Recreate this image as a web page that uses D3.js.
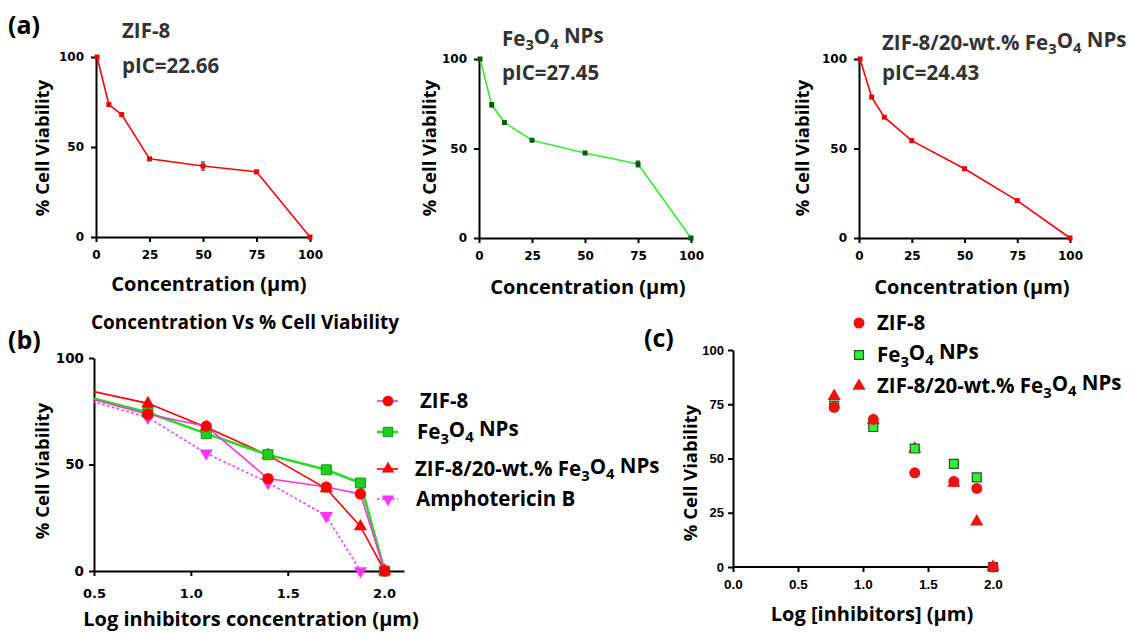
<!DOCTYPE html>
<html>
<head>
<meta charset="utf-8">
<script src="https://cdn.jsdelivr.net/npm/d3@7"></script>
<style>
  body { margin: 0; background: #fff; }
  svg { display: block; }
  .tick line { stroke: #000; stroke-width: 2; }
  .domain { stroke: #000; stroke-width: 2; }
</style>
</head>
<body>
<div id="container"></div>
<script>
/* DATA */
const conc = [0.5, 6, 12, 25, 50, 75, 100];
const zif8 = [100, 73.6, 68.0, 43.4, 39.4, 36.2, 0];
const zif8Err = [0, 0.8, 0.8, 0.8, 2.2, 0.8, 0];
const fe3o4 = [100, 74.4, 64.5, 54.6, 47.5, 41.3, 0];
const fe3o4Err = [0, 1.2, 0.8, 0.8, 0.8, 1.6, 0];
const zifFe = [100, 78.7, 67.5, 54.4, 38.7, 20.9, 0];
const zifFeErr = [0, 0.8, 0.8, 0.8, 0.8, 0.8, 0];
const amphoConc = [0.5, 6, 12, 25, 50, 75];
const amphoB = [100, 72.1, 55.3, 41.5, 25.9, 0];

const pIC = ["22.66", "27.45", "24.43"];
const linTicks = [0, 25, 50, 75, 100];
const linYTicks = [0, 50, 100];
const logXTicksB = [0.5, 1.0, 1.5];
const logXTicksC = [0, 0.5, 1.0, 1.5, 2.0];
const yTicksC = [0, 25, 50, 75, 100];

/* CONSTANTS */
const width = 1131, height = 633;
const RED = "#ff0000", GREEN = "#33ee33", MAGENTA = "#ff33dd", AMPHO = "#ff33ff";
const TITLE_FONT = "'Open Sans', sans-serif";
const TICK_FONT = "'DejaVu Sans', sans-serif";
const LBL = 20;   // axis title size
const LEG = 20.5; // legend / panel title size

const svg = d3.select("#container")
  .append("svg")
  .attr("width", width)
  .attr("height", height);

// writes text with subscript pieces ({s: "3"})
function formula(sel, pieces) {
  let shifted = false;
  pieces.forEach(p => {
    const sub = typeof p !== "string";
    const t = sub ? p.s : p;
    const ts = sel.append("tspan").text(t);
    if (sub && !shifted) { ts.attr("font-size", "0.72em").attr("dy", "0.3em"); shifted = true; }
    else if (!sub && shifted) { ts.attr("dy", "-0.3em"); shifted = false; }
    else if (sub) ts.attr("font-size", "0.72em");
  });
}
const FE3O4 = ["Fe", {s: "3"}, "O", {s: "4"}, " NPs"];
const ZIFFE = ["ZIF-8/20-wt.% Fe", {s: "3"}, "O", {s: "4"}, " NPs"];

function panelLabel(x, y, t) {
  svg.append("text").attr("x", x).attr("y", y)
    .attr("font-family", TITLE_FONT).attr("font-weight", 700)
    .attr("font-size", 25).attr("fill", "#000").text(t);
}

function yLabel(cx, cy, size) {
  svg.append("text")
    .attr("transform", `translate(${cx},${cy}) rotate(-90)`)
    .attr("text-anchor", "middle")
    .attr("dy", "0.35em")
    .attr("font-family", TITLE_FONT).attr("font-weight", 700)
    .attr("font-size", size).attr("fill", "#000")
    .text("% Cell Viability");
}

function styleAxis(g, size, family) {
  g.selectAll("text")
    .attr("font-family", family || TICK_FONT).attr("font-weight", 700)
    .attr("font-size", size).attr("fill", "#000");
}

/* PANEL (a) */
const aPanels = [
  { x0: 96, x1: 310, y0: 237, y1: 57, vals: zif8, err: zif8Err, color: RED, mark: "#ee0000",
    title: ["ZIF-8"], tx: 122, ty: 38, py: 73, lx: 43, labX: 209, labY: 291 },
  { x0: 479, x1: 691, y0: 238, y1: 59, vals: fe3o4, err: fe3o4Err, color: GREEN, mark: "#0a5a0a",
    title: FE3O4, tx: 502, ty: 46, py: 80, lx: 430, labX: 588, labY: 294 },
  { x0: 859, x1: 1070, y0: 238, y1: 59, vals: zifFe, err: zifFeErr, color: RED, mark: "#ee0000",
    title: ZIFFE, tx: 882, ty: 50, py: 80, lx: 803, labX: 972, labY: 294 }
];

aPanels.forEach((p, i) => {
  const x = d3.scaleLinear().domain([0, 100]).range([p.x0, p.x1]);
  const y = d3.scaleLinear().domain([0, 100]).range([p.y0, p.y1]);
  const pts = conc.map((c, j) => ({ c, v: p.vals[j], e: p.err[j] }));

  const gx = svg.append("g").attr("transform", `translate(0,${p.y0})`)
    .call(d3.axisBottom(x).tickValues(linTicks).tickSize(5).tickPadding(8).tickSizeOuter(0));
  styleAxis(gx, 12);
  const gy = svg.append("g").attr("transform", `translate(${p.x0},0)`)
    .call(d3.axisLeft(y).tickValues(linYTicks).tickSize(5).tickPadding(7).tickSizeOuter(0));
  styleAxis(gy, 12);

  svg.append("path").datum(pts)
    .attr("fill", "none").attr("stroke", p.color).attr("stroke-width", 1.6)
    .attr("d", d3.line().x(d => x(d.c)).y(d => y(d.v)));

  svg.append("g").selectAll("path.err").data(pts.filter(d => d.e > 1))
    .join("path")
    .attr("stroke", "#444").attr("stroke-width", 1.2).attr("fill", "none")
    .attr("d", d => `M${x(d.c) - 2},${y(d.v + d.e)}H${x(d.c) + 2}M${x(d.c)},${y(d.v + d.e)}V${y(d.v - d.e)}M${x(d.c) - 2},${y(d.v - d.e)}H${x(d.c) + 2}`);

  svg.append("g").selectAll("rect").data(pts).join("rect")
    .attr("x", d => x(d.c) - 2.5).attr("y", d => y(d.v) - 2.5)
    .attr("width", 5).attr("height", 5)
    .attr("fill", p.mark);

  const t = svg.append("text").attr("x", p.tx).attr("y", p.ty)
    .attr("font-family", TITLE_FONT).attr("font-weight", 700)
    .attr("font-size", LEG).attr("fill", "#333");
  formula(t, p.title);
  svg.append("text").attr("x", p.tx).attr("y", p.py)
    .attr("font-family", TITLE_FONT).attr("font-weight", 700)
    .attr("font-size", LEG).attr("fill", "#333")
    .text("pIC=" + pIC[i]);

  yLabel(p.lx, 148, 18.5);
  svg.append("text").attr("x", p.labX).attr("y", p.labY)
    .attr("text-anchor", "middle")
    .attr("font-family", TITLE_FONT).attr("font-weight", 700)
    .attr("font-size", LBL).attr("fill", "#000")
    .text("Concentration (\u00b5m)");
});
panelLabel(8, 34, "(a)");

/* PANEL (b) */
const xb = d3.scaleLinear().domain([0.5, 2.1]).range([94, 404]);
const yb = d3.scaleLinear().domain([0, 100]).range([571, 358]);

svg.append("defs").append("clipPath").attr("id", "clipB")
  .append("rect").attr("x", 94).attr("y", 340).attr("width", 330).attr("height", 240);

const gxb = svg.append("g").attr("transform", "translate(0,571)")
  .call(d3.axisBottom(xb).tickValues(logXTicksB).tickFormat(d3.format(".1f")).tickSize(5).tickPadding(13).tickSizeOuter(0));
styleAxis(gxb, 13);
const gyb = svg.append("g").attr("transform", "translate(94,0)")
  .call(d3.axisLeft(yb).tickValues(linYTicks).tickSize(5).tickPadding(5).tickSizeOuter(0));
styleAxis(gyb, 13.5);
// 2.0 label has no tick mark in the reference
svg.append("text").attr("x", xb(2.0)).attr("y", 598).attr("text-anchor", "middle")
  .attr("font-family", TICK_FONT).attr("font-weight", 700).attr("font-size", 13)
  .text("2.0");

const lineB = d3.line().x(d => xb(Math.log10(d.c))).y(d => yb(d.v));
const bSeries = [
  { key: "ampho", c: amphoConc, v: amphoB, line: AMPHO, dash: "2.5,2.5", w: 1.6, mark: "down", fill: AMPHO },
  { key: "zifFe", c: conc, v: zifFe, line: RED, dash: null, w: 1.6, mark: "tri", fill: RED },
  { key: "fe", c: conc, v: fe3o4, line: "#22dd22", dash: null, w: 2.6, mark: "sq", fill: "#22cc22" },
  { key: "zif", c: conc, v: zif8, line: MAGENTA, dash: null, w: 1.6, mark: "circ", fill: RED }
];

const symbolFor = m => m === "circ" ? d3.symbolCircle : m === "sq" ? d3.symbolSquare : d3.symbolTriangle;
const sizeFor = m => m === "circ" ? 100 : m === "sq" ? 100 : 75;

bSeries.forEach(s => {
  const pts = s.c.map((c, j) => ({ c, v: s.v[j] }));
  svg.append("path").datum(pts)
    .attr("clip-path", "url(#clipB)")
    .attr("fill", "none").attr("stroke", s.line).attr("stroke-width", s.w)
    .attr("stroke-dasharray", s.dash)
    .attr("d", lineB);
});
bSeries.forEach(s => {
  const pts = s.c.map((c, j) => ({ c, v: s.v[j] })).filter(d => Math.log10(d.c) >= 0.5);
  svg.append("g").selectAll("path").data(pts).join("path")
    .attr("transform", d => `translate(${xb(Math.log10(d.c))},${yb(d.v)})${s.mark === "down" ? " rotate(180)" : ""}`)
    .attr("d", d3.symbol(symbolFor(s.mark), sizeFor(s.mark)))
    .attr("fill", s.fill)
    .attr("stroke", s.mark === "sq" ? "#119911" : "none").attr("stroke-width", 1);
});

svg.append("text").attr("x", 245).attr("y", 329).attr("text-anchor", "middle")
  .attr("font-family", TITLE_FONT).attr("font-weight", 700)
  .attr("font-size", 19).attr("fill", "#000")
  .text("Concentration Vs % Cell Viability");
panelLabel(8, 349, "(b)");
yLabel(43, 471, 18.5);
svg.append("text").attr("x", 251).attr("y", 626).attr("text-anchor", "middle")
  .attr("font-family", TITLE_FONT).attr("font-weight", 700)
  .attr("font-size", LBL).attr("fill", "#000")
  .text("Log inhibitors concentration (\u00b5m)");

// legend (b)
const legB = [
  { s: bSeries[3], label: ["ZIF-8"], y: 401, tx: 420 },
  { s: bSeries[2], label: FE3O4, y: 432, tx: 417 },
  { s: bSeries[1], label: ZIFFE, y: 469, tx: 415 },
  { s: bSeries[0], label: ["Amphotericin B"], y: 499, tx: 416 }
];
legB.forEach(l => {
  svg.append("line").attr("x1", 377).attr("x2", 398).attr("y1", l.y).attr("y2", l.y)
    .attr("stroke", l.s.line).attr("stroke-width", l.s.w).attr("stroke-dasharray", l.s.dash);
  svg.append("path")
    .attr("transform", `translate(388,${l.y})${l.s.mark === "down" ? " rotate(180)" : ""}`)
    .attr("d", d3.symbol(symbolFor(l.s.mark), sizeFor(l.s.mark) * 0.9))
    .attr("fill", l.s.fill)
    .attr("stroke", l.s.mark === "sq" ? "#119911" : "none");
  const t = svg.append("text").attr("x", l.tx).attr("y", l.y).attr("dy", "0.35em")
    .attr("font-family", TITLE_FONT).attr("font-weight", 700)
    .attr("font-size", LEG).attr("fill", "#000");
  formula(t, l.label);
});

/* PANEL (c) */
const xc = d3.scaleLinear().domain([0, 2]).range([733, 993]);
const yc = d3.scaleLinear().domain([0, 100]).range([567, 350]);
const gxc = svg.append("g").attr("transform", "translate(0,567)")
  .call(d3.axisBottom(xc).tickValues(logXTicksC).tickFormat(d3.format(".1f")).tickSize(5).tickPadding(7).tickSizeOuter(0));
styleAxis(gxc, 13.5, "'Liberation Sans', sans-serif");
gxc.select(".domain").attr("d", "M733,0H997");
const gyc = svg.append("g").attr("transform", "translate(733,0)")
  .call(d3.axisLeft(yc).tickValues(yTicksC).tickSize(5).tickPadding(4).tickSizeOuter(0));
styleAxis(gyc, 13, "'Liberation Sans', sans-serif");

const cSeries = [
  { v: zifFe, mark: "tri", fill: "#ee1111", stroke: "none", size: 75 },
  { v: fe3o4, mark: "sq", fill: "#33ee33", stroke: "#225522", size: 80 },
  { v: zif8, mark: "circ", fill: "#ee1111", stroke: "none", size: 95 }
];
cSeries.forEach(s => {
  const pts = conc.map((c, j) => ({ lx: Math.log10(c), v: s.v[j] })).filter(d => d.lx >= 0);
  svg.append("g").selectAll("path").data(pts).join("path")
    .attr("transform", d => `translate(${xc(d.lx)},${yc(d.v)})`)
    .attr("d", d3.symbol(symbolFor(s.mark), s.size))
    .attr("fill", s.fill).attr("stroke", s.stroke).attr("stroke-width", 1.2);
});

panelLabel(644, 347, "(c)");
yLabel(691, 473, 18.5);
svg.append("text").attr("x", 872).attr("y", 621).attr("text-anchor", "middle")
  .attr("font-family", TITLE_FONT).attr("font-weight", 700)
  .attr("font-size", LBL).attr("fill", "#000")
  .text("Log [inhibitors] (\u00b5m)");

const legC = [
  { s: cSeries[2], label: ["ZIF-8"], y: 323 },
  { s: cSeries[1], label: FE3O4, y: 355 },
  { s: cSeries[0], label: ZIFFE, y: 386 }
];
legC.forEach(l => {
  svg.append("path").attr("transform", `translate(859,${l.y})`)
    .attr("d", d3.symbol(symbolFor(l.s.mark), l.s.size))
    .attr("fill", l.s.fill).attr("stroke", l.s.stroke).attr("stroke-width", 1.2);
  const t = svg.append("text").attr("x", 877).attr("y", l.y).attr("dy", "0.35em")
    .attr("font-family", TITLE_FONT).attr("font-weight", 700)
    .attr("font-size", LEG).attr("fill", "#000");
  formula(t, l.label);
});
</script>
</body>
</html>
